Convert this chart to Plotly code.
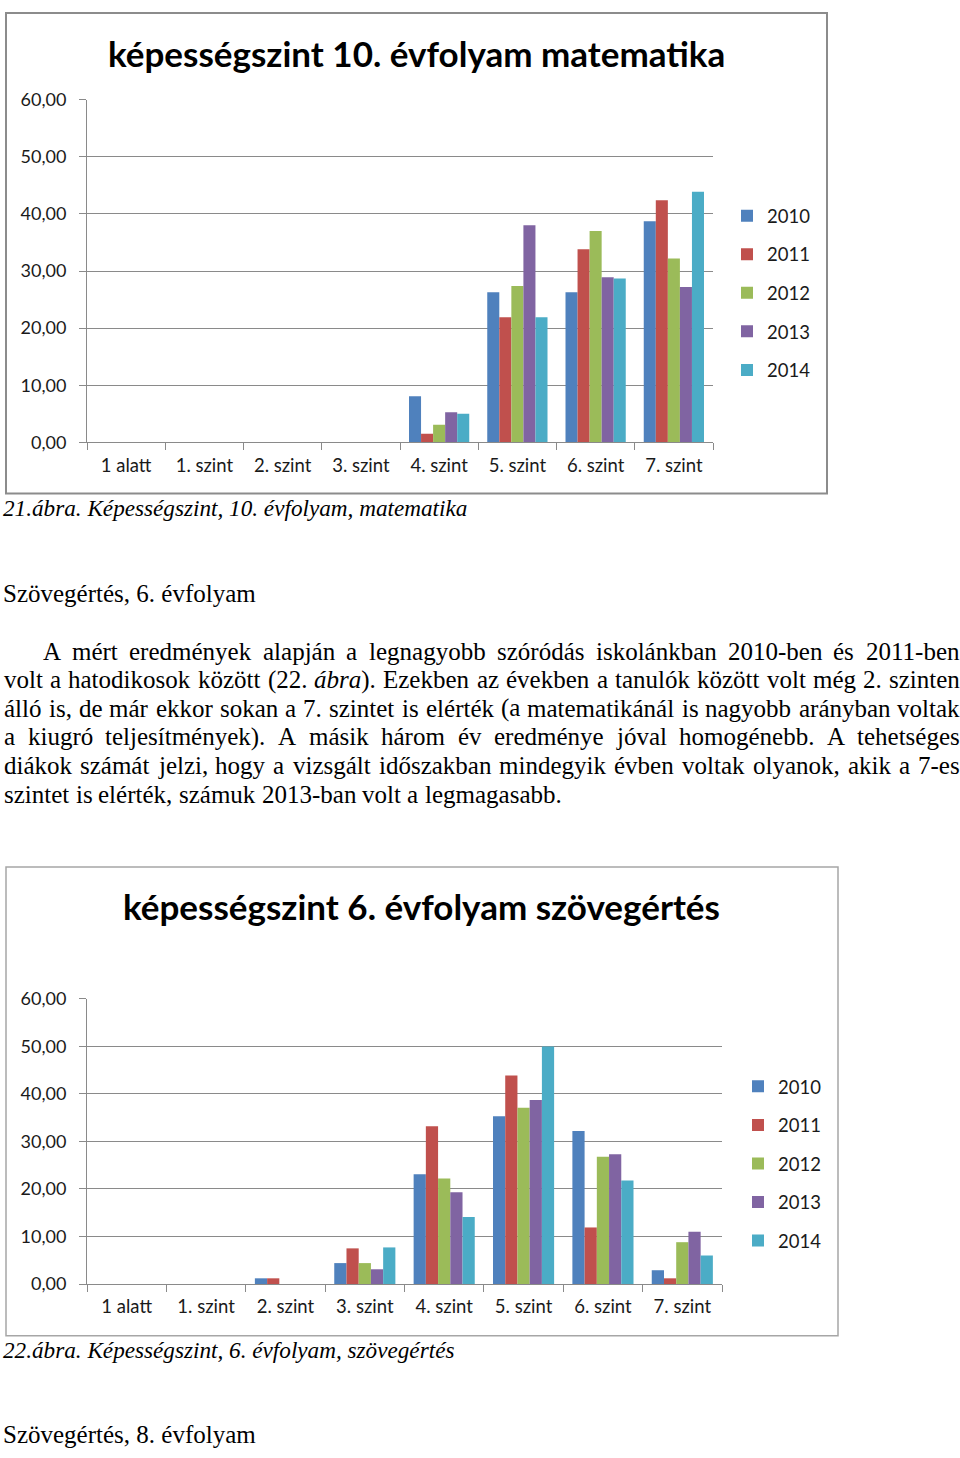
import plotly.graph_objects as go

W, H = 960, 1458

# ---------------- data ----------------
categories = ["1 alatt", "1. szint", "2. szint", "3. szint", "4. szint", "5. szint", "6. szint", "7. szint"]
years = ["2010", "2011", "2012", "2013", "2014"]
colors = ["#4F81BD", "#C0504D", "#9BBB59", "#8064A2", "#4BACC6"]

math10_2010 = [0, 0, 0, 0, 8.1, 26.3, 26.3, 38.7]
math10_2011 = [0, 0, 0, 0, 1.5, 21.9, 33.8, 42.4]
math10_2012 = [0, 0, 0, 0, 3.1, 27.4, 37.0, 32.2]
math10_2013 = [0, 0, 0, 0, 5.3, 38.0, 28.9, 27.2]
math10_2014 = [0, 0, 0, 0, 5.0, 21.9, 28.7, 43.9]

read6_2010 = [0, 0, 1.2, 4.4, 23.1, 35.3, 32.2, 2.9]
read6_2011 = [0, 0, 1.2, 7.5, 33.2, 43.9, 11.9, 1.2]
read6_2012 = [0, 0, 0, 4.4, 22.2, 37.1, 26.8, 8.8]
read6_2013 = [0, 0, 0, 3.1, 19.3, 38.7, 27.3, 11.0]
read6_2014 = [0, 0, 0, 7.7, 14.1, 50.0, 21.8, 6.0]

title1 = "képességszint 10. évfolyam matematika"
title2 = "képességszint 6. évfolyam szövegértés"
caption1 = "21.ábra. Képességszint, 10. évfolyam, matematika"
caption2 = "22.ábra. Képességszint, 6. évfolyam, szövegértés"
heading1 = "Szövegértés, 6. évfolyam"
heading2 = "Szövegértés, 8. évfolyam"
paragraph_lines = [
    "A mért eredmények alapján a legnagyobb szóródás iskolánkban 2010-ben és 2011-ben",
    "volt a hatodikosok között (22. <i>ábra</i>). Ezekben az években a tanulók között volt még 2. szinten",
    "álló is, de már ekkor sokan a 7. szintet is elérték (a matematikánál is nagyobb arányban voltak",
    "a kiugró teljesítmények). A másik három év eredménye jóval homogénebb. A tehetséges",
    "diákok számát jelzi, hogy a vizsgált időszakban mindegyik évben voltak olyanok, akik a 7-es",
    "szintet is elérték, számuk 2013-ban volt a legmagasabb.",
]

math10 = [math10_2010, math10_2011, math10_2012, math10_2013, math10_2014]
read6 = [read6_2010, read6_2011, read6_2012, read6_2013, read6_2014]


def px(x):
    return x / W


def py(y):
    return 1 - y / H


fig = go.Figure()

for i, (yr, col) in enumerate(zip(years, colors)):
    fig.add_trace(go.Bar(x=categories, y=math10[i], name=yr, marker=dict(color=col, line=dict(width=0)),
                         xaxis="x", yaxis="y", legend="legend", legendgroup="a" + yr))
for i, (yr, col) in enumerate(zip(years, colors)):
    fig.add_trace(go.Bar(x=categories, y=read6[i], name=yr, marker=dict(color=col, line=dict(width=0)),
                         xaxis="x2", yaxis="y2", legend="legend2", legendgroup="b" + yr))

CH_FONT = "Lato"
GRID = "#8a8a8a"

xax = dict(type="category", showline=True, linecolor=GRID, linewidth=1, ticks="outside", ticklen=7,
           tickcolor=GRID, tickson="boundaries", showgrid=False, zeroline=False,
           tickfont=dict(family=CH_FONT, size=18.5, color="#1a1a1a"), ticklabelstandoff=6, fixedrange=True)
yax = dict(range=[0, 60], dtick=10, tickformat=".2f", showline=True, linecolor=GRID, linewidth=1,
           ticks="outside", ticklen=7, tickcolor=GRID, showgrid=True, gridcolor=GRID, gridwidth=1,
           zeroline=False, tickfont=dict(family=CH_FONT, size=18, color="#1a1a1a"), ticklabelstandoff=9,
           fixedrange=True)

legend_common = dict(font=dict(family=CH_FONT, size=18.5, color="#1a1a1a"), traceorder="grouped",
                     tracegroupgap=11.5, bgcolor="rgba(0,0,0,0)", itemclick=False, itemdoubleclick=False,
                     xanchor="left", yanchor="top")

fig.update_layout(
    width=W, height=H, margin=dict(l=0, r=0, t=0, b=0),
    paper_bgcolor="white", plot_bgcolor="white",
    separators=", ",
    barmode="group", bargap=0.23, bargroupgap=0,
    xaxis=dict(xax, domain=[px(87), px(713)], anchor="y"),
    yaxis=dict(yax, domain=[py(437), py(89)], anchor="x"),
    xaxis2=dict(xax, domain=[px(87), px(722)], anchor="y2"),
    yaxis2=dict(yax, domain=[py(1291.5), py(1002)], anchor="x2"),
    legend=dict(legend_common, x=px(727), y=py(188)),
    legend2=dict(legend_common, x=px(738), y=py(1072)),
    showlegend=True,
)

# chart frames
fig.add_shape(type="rect", xref="paper", yref="paper", x0=px(6), x1=px(827), y0=py(489), y1=py(1),
              line=dict(color="#8c8c8c", width=2), layer="below")
fig.add_shape(type="rect", xref="paper", yref="paper", x0=px(6), x1=px(838), y0=py(1344), y1=py(868),
              line=dict(color="#a6a6a6", width=1.5), layer="below")

# chart titles
fig.add_annotation(text="<b>" + title1 + "</b>", xref="paper", yref="paper", x=px(416), y=py(42),
                   showarrow=False, xanchor="center", yanchor="middle",
                   font=dict(family=CH_FONT, size=35, color="black"))
fig.add_annotation(text="<b>" + title2 + "</b>", xref="paper", yref="paper", x=px(421), y=py(908),
                   showarrow=False, xanchor="center", yanchor="middle",
                   font=dict(family=CH_FONT, size=35, color="black"))

SERIF = "Liberation Serif"


def txt(s, x, y, size, italic=False):
    fig.add_annotation(text=("<i>" + s + "</i>") if italic else s, xref="paper", yref="paper",
                       x=px(x), y=py(y), showarrow=False, xanchor="left", yanchor="middle",
                       font=dict(family=SERIF, size=size, color="black"), borderpad=0)


txt(caption1, 2, 504, 23.2, italic=True)
txt(heading1, 2, 590, 25)
txt(caption2, 2, 1358, 23.2, italic=True)
txt(heading2, 2, 1444, 25)

# Times-Roman / Times-Italic advance widths (per 1000 em) for justification
ROMAN = {" ": 250, ",": 250, ".": 250, "-": 333, "(": 333, ")": 333, "A": 722, "E": 611, "S": 556,
         "K": 722, "a": 444, "b": 500, "c": 444, "d": 500, "e": 444, "f": 333, "g": 500, "h": 500,
         "i": 278, "j": 278, "k": 500, "l": 278, "m": 778, "n": 500, "o": 500, "p": 500, "q": 500,
         "r": 333, "s": 389, "t": 278, "u": 500, "v": 500, "w": 722, "x": 500, "y": 500, "z": 444,
         "á": 444, "é": 444, "í": 278, "ó": 500, "ö": 500, "ő": 500, "ú": 500, "ü": 500, "ű": 500}
ITALIC = {"a": 500, "b": 500, "r": 389, "á": 500}


def word_width(word, size):
    total = 0
    ital = False
    i = 0
    while i < len(word):
        if word.startswith("<i>", i):
            ital = True
            i += 3
            continue
        if word.startswith("</i>", i):
            ital = False
            i += 4
            continue
        ch = word[i]
        if ch.isdigit():
            w = 500
        elif ital and ch in ITALIC:
            w = ITALIC[ch]
        else:
            w = ROMAN.get(ch, 500)
        total += w
        i += 1
    return total * size / 1000


BODY = 25
LEFT, RIGHT = 3, 959
line_y0, line_step = 649, 29
for li, line in enumerate(paragraph_lines):
    y = line_y0 + li * line_step
    start = 42 if li == 0 else LEFT
    words = line.split(" ")
    last = li == len(paragraph_lines) - 1
    widths = [word_width(w, BODY) for w in words]
    if last or len(words) == 1:
        gap = 250 * BODY / 1000
    else:
        gap = (RIGHT - start - sum(widths)) / (len(words) - 1)
    x = start
    for w, wd in zip(words, widths):
        txt(w, x, y, BODY)
        x += wd + gap

fig.write_html("out.html")
